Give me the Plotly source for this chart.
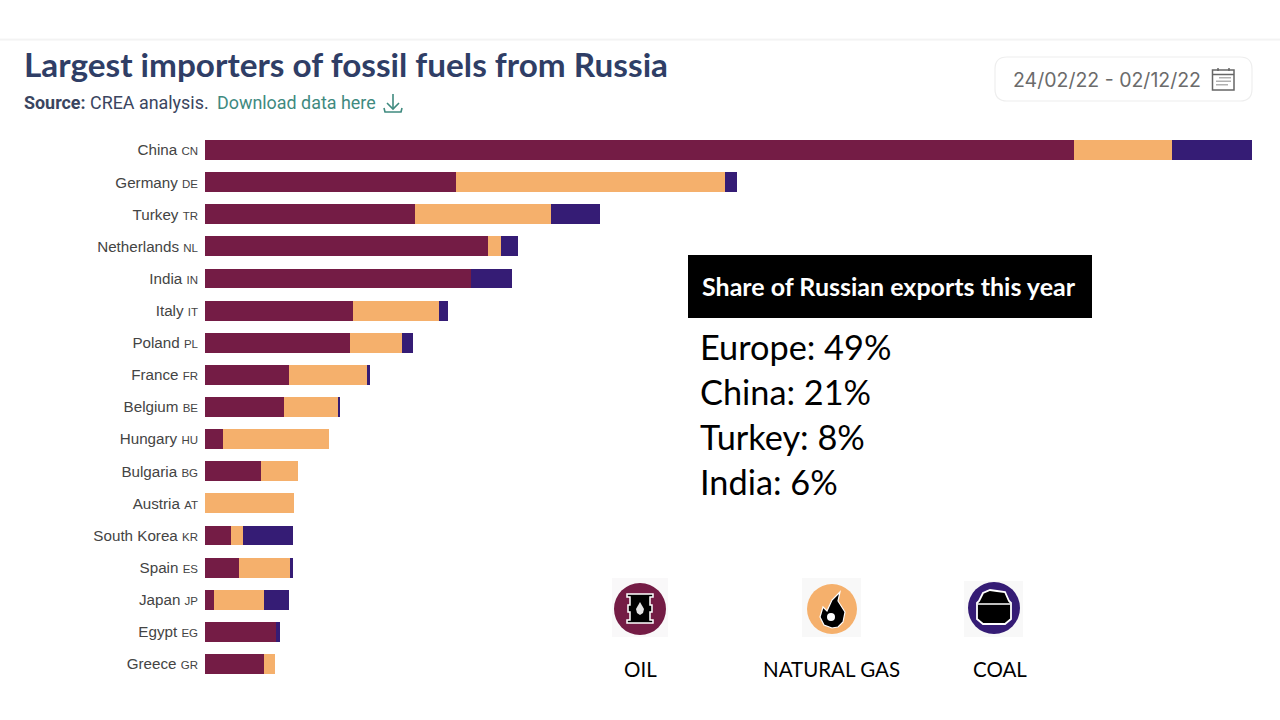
import plotly.graph_objects as go

# values, chart has no value axis
countries = ["China", "Germany", "Turkey", "Netherlands", "India", "Italy", "Poland", "France", "Belgium",
             "Hungary", "Bulgaria", "Austria", "South Korea", "Spain", "Japan", "Egypt", "Greece"]
codes = ["CN", "DE", "TR", "NL", "IN", "IT", "PL", "FR", "BE", "HU", "BG", "AT", "KR", "ES", "JP", "EG", "GR"]
oil = [869, 251, 210, 283, 266, 148, 145, 84, 79, 18, 56, 0, 26, 34, 9, 71, 59]
gas = [98, 269, 136, 13, 0, 86, 52, 78, 54, 106, 37, 89, 12, 51, 50, 0, 11]
coal = [80, 12, 49, 17, 41, 9, 11, 3, 2, 0, 0, 0, 50, 3, 25, 4, 0]

share_regions = ["Europe", "China", "Turkey", "India"]
share_values = [49, 21, 8, 6]
fuel_names = ["OIL", "NATURAL GAS", "COAL"]

OIL_COLOR = "#741c45"
GAS_COLOR = "#f5b06c"
COAL_COLOR = "#351c75"

WIDTH, HEIGHT = 1280, 720
LEFT, RIGHT, TOP, BOTTOM = 205, 1252, 134, 680


def px(x):
    return (x - LEFT) / (RIGHT - LEFT)


def py(y):
    return (BOTTOM - y) / (BOTTOM - TOP)


def path(points, close=True):
    d = "M " + " L ".join(f"{px(x):.5f},{py(y):.5f}" for x, y in points)
    return d + (" Z" if close else "")


def text(x, y, label, size, color, family, anchor="left"):
    return dict(xref="paper", yref="paper", x=px(x), y=py(y), text=label, showarrow=False, xanchor=anchor,
                yanchor="middle", font=dict(size=size, color=color, family=family))


def rect(x0, y0, x1, y1, fill, line="rgba(0,0,0,0)", width=0):
    return dict(type="rect", xref="paper", yref="paper", x0=px(x0), x1=px(x1), y0=py(y0), y1=py(y1),
                fillcolor=fill, line=dict(color=line, width=width), layer="above")


def circle(cx, cy, r, fill):
    return dict(type="circle", xref="paper", yref="paper", x0=px(cx - r), x1=px(cx + r), y0=py(cy - r),
                y1=py(cy + r), fillcolor=fill, line=dict(width=0), layer="above")


def poly(points, fill="#000000", line="rgba(0,0,0,0)", width=0, close=True):
    return dict(type="path", xref="paper", yref="paper", path=path(points, close), fillcolor=fill,
                line=dict(color=line, width=width), layer="above")


labels = [f"{c} <span style='font-size:11.5px'>{k}</span>" for c, k in zip(countries, codes)]

fig = go.Figure()
for name, vals, color in [("Oil", oil, OIL_COLOR), ("Natural gas", gas, GAS_COLOR), ("Coal", coal, COAL_COLOR)]:
    fig.add_trace(go.Bar(y=labels, x=vals, name=name, orientation="h", marker=dict(color=color, line=dict(width=0))))

shapes = [
    # faint page header edge
    rect(0, 38, 1280, 39, "#fafafa"), rect(0, 39, 1280, 40, "#f3f3f3"), rect(0, 40, 1280, 41, "#f8f8f8"),
    # share box
    rect(688, 255, 1092, 318, "#000000"),
    # icon backgrounds
    rect(612, 578, 668, 637, "#f9f8f9"), rect(802, 578, 861, 637, "#f8f8f8"), rect(964, 581, 1023, 637, "#f8f8f8"),
    circle(640, 609, 26, OIL_COLOR), circle(832, 609, 25, GAS_COLOR), circle(994, 608, 26, COAL_COLOR),
    # barrel
    poly([(627, 594), (653, 594), (653, 597), (650, 597), (650, 605), (652, 605), (652, 612), (650, 612),
          (650, 620), (653, 620), (653, 623), (627, 623), (627, 620), (630, 620), (630, 612), (628, 612),
          (628, 605), (630, 605), (630, 597), (627, 597)], "#000000", "#ffffff", 1.5),
    poly([(640, 602), (644, 609), (643, 613), (640, 615), (637, 613), (636, 609)], "#e4e4e4"),
    # flame
    poly([(832, 628), (824, 625), (820, 617), (823, 607), (827, 611), (832, 600), (840, 592), (838, 601),
          (845, 612), (843, 622), (838, 627)], "#000000", "#ffffff", 1.2),
    circle(831, 617, 4, "#ffffff"),
    # coal cart
    poly([(979, 601), (983, 593), (990, 590), (997, 591), (1005, 592), (1009, 601), (1011, 603), (1011, 619),
          (1005, 624), (983, 624), (977, 619), (977, 603)], "#000000", "#ffffff", 1.8),
    poly([(978, 604), (1010, 604)], "rgba(0,0,0,0)", "#ffffff", 1.5, close=False),
    # date picker box
    dict(type="path", xref="paper", yref="paper", line=dict(color="#eeeeee", width=1.2), fillcolor="#ffffff",
         layer="below",
         path=(f"M {px(1007)},{py(57)} L {px(1240)},{py(57)} Q {px(1252)},{py(57)} {px(1252)},{py(69)} "
               f"L {px(1252)},{py(89)} Q {px(1252)},{py(101)} {px(1240)},{py(101)} L {px(1007)},{py(101)} "
               f"Q {px(995)},{py(101)} {px(995)},{py(89)} L {px(995)},{py(69)} Q {px(995)},{py(57)} {px(1007)},{py(57)} Z")),
    # calendar icon
    rect(1212.5, 70, 1234, 90, "#ffffff", "#666666", 1.5),
    poly([(1213, 74.5), (1234, 74.5)], "rgba(0,0,0,0)", "#666666", 1.5, close=False),
    poly([(1218, 68), (1218, 71)], "rgba(0,0,0,0)", "#666666", 1.5, close=False),
    poly([(1229, 68), (1229, 71)], "rgba(0,0,0,0)", "#666666", 1.5, close=False),
    rect(1219, 77, 1231, 78.5, "#b0b0b0"), rect(1216, 80.5, 1231, 82, "#b0b0b0"), rect(1216, 84, 1228, 85.5, "#b0b0b0"),
    # download icon
    poly([(393, 94), (393, 108)], "rgba(0,0,0,0)", "#3f8a7f", 1.6, close=False),
    poly([(387, 103), (393, 109), (399, 103)], "rgba(0,0,0,0)", "#3f8a7f", 1.6, close=False),
    poly([(384, 108), (385, 112), (401, 112), (402, 108)], "rgba(0,0,0,0)", "#3f8a7f", 1.6, close=False),
]

annotations = [
    text(22, 64, "<b>Largest importers of fossil fuels from Russia</b>", 33.3, "#2f3e66", "Lato"),
    text(22, 103, "<b>Source:</b> CREA analysis.", 17.9, "#3a4560", "Roboto"),
    text(215, 103, "Download data here", 17.9, "#3f8a7f", "Roboto"),
    text(1011, 80, "24/02/22 - 02/12/22", 19.5, "#6b6b6b", "Inter"),
    text(700, 286, "<b>Share of Russian exports this year</b>", 25, "#ffffff", "Lato"),
]
for i, (region, share) in enumerate(zip(share_regions, share_values)):
    annotations.append(text(698, 346.5 + i * 45, f"{region}: {share}%", 34.3, "#000000", "Lato"))
for cx, name in zip([640, 831, 1000], fuel_names):
    annotations.append(text(cx, 669, name, 20.5, "#000000", "Lato", anchor="center"))

fig.update_layout(
    width=WIDTH,
    height=HEIGHT,
    barmode="stack",
    bargap=0.38,
    showlegend=False,
    plot_bgcolor="#ffffff",
    paper_bgcolor="#ffffff",
    margin=dict(l=LEFT, r=WIDTH - RIGHT, t=TOP, b=HEIGHT - BOTTOM, autoexpand=False),
    xaxis=dict(range=[0, 1047], visible=False, fixedrange=True),
    yaxis=dict(autorange="reversed", showgrid=False, zeroline=False, showline=False, ticks="",
               ticklabelstandoff=6, tickfont=dict(family="Liberation Sans", size=15.2, color="#444444")),
    shapes=shapes,
    annotations=annotations,
)

# page default body margin would push the figure 8px in
fig.write_html("out.html", config=dict(displayModeBar=False),
               post_script="document.body.style.margin='0';")
